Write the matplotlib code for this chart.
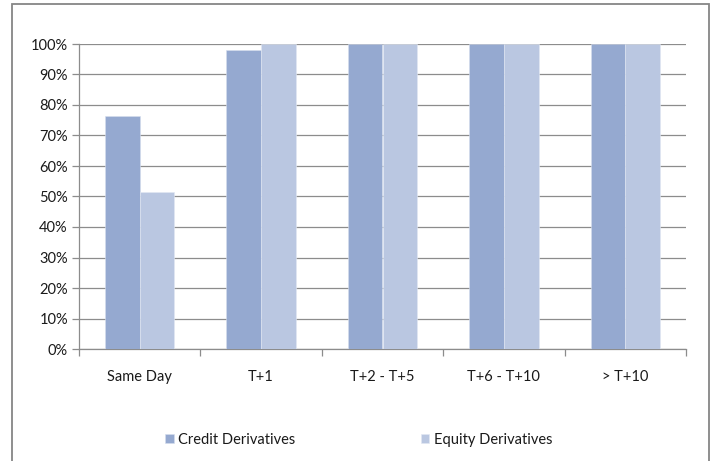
import matplotlib.pyplot as plt
import numpy as np
from matplotlib.patches import Rectangle
from matplotlib.ticker import FuncFormatter, FixedLocator

categories = ["Same Day", "T+1", "T+2 - T+5", "T+6 - T+10", "> T+10"]
credit = [76.5, 98.0, 100.0, 100.0, 100.0]
equity = [51.5, 100.0, 100.0, 100.0, 100.0]
series_names = ["Credit Derivatives", "Equity Derivatives"]
colors = ["#95A9D0", "#BAC7E1"]

plt.rcParams['font.family'] = ['Lato', 'DejaVu Sans']

W, H = 717, 461
fig = plt.figure(figsize=(W / 100, H / 100), dpi=100)

# plot area in pixels
left, right, top, bottom = 79, 686, 44, 349
ax = fig.add_axes([left / W, 1 - bottom / H, (right - left) / W, (bottom - top) / H])

x = np.arange(len(categories))
bw = 1 / 3.5
ax.bar(x - bw / 2, credit, bw, color=colors[0], edgecolor="#D6DEEE", linewidth=0.4,
       label=series_names[0], zorder=3)
ax.bar(x + bw / 2, equity, bw, color=colors[1], edgecolor="#E2E8F3", linewidth=0.4,
       label=series_names[1], zorder=3)

ax.set_xlim(-0.5, len(categories) - 0.5)
ax.set_ylim(0, 100)
ax.set_yticks(np.arange(0, 101, 10))
ax.yaxis.set_major_formatter(FuncFormatter(lambda v, p: f"{int(v)}%"))
ax.yaxis.grid(True, color="#8C8C8C", linewidth=0.9, zorder=0)
ax.set_axisbelow(True)

ax.set_xticks(x)
ax.set_xticklabels(categories)
ax.xaxis.set_minor_locator(FixedLocator(np.arange(-0.5, len(categories), 1.0)))
ax.tick_params(axis='x', which='major', length=0, pad=15, labelsize=10.5, colors="#1A1A1A")
ax.tick_params(axis='x', which='minor', length=5, width=0.9, color="#8C8C8C", direction='out')
ax.tick_params(axis='y', length=5, width=0.9, color="#8C8C8C", labelsize=10.5,
               labelcolor="#1A1A1A", pad=3)

for s in ['top', 'right']:
    ax.spines[s].set_visible(False)
for s in ['left', 'bottom']:
    ax.spines[s].set_color("#8C8C8C")
    ax.spines[s].set_linewidth(0.9)

leg = fig.legend(loc='center', bbox_to_anchor=(0.5, 1 - 440 / H), ncol=2, frameon=False,
                 fontsize=10.5, handlelength=0.6, handleheight=0.6, handletextpad=0.3,
                 columnspacing=8.6)
for t in leg.get_texts():
    t.set_color("#1A1A1A")

# outer chart border
fig.patches.append(Rectangle((12 / W, -0.02), (709 - 12) / W, 1 - 4 / H + 0.02,
                             transform=fig.transFigure, fill=False,
                             edgecolor="#868686", linewidth=1.3))

fig.savefig("out.png", dpi=100)
